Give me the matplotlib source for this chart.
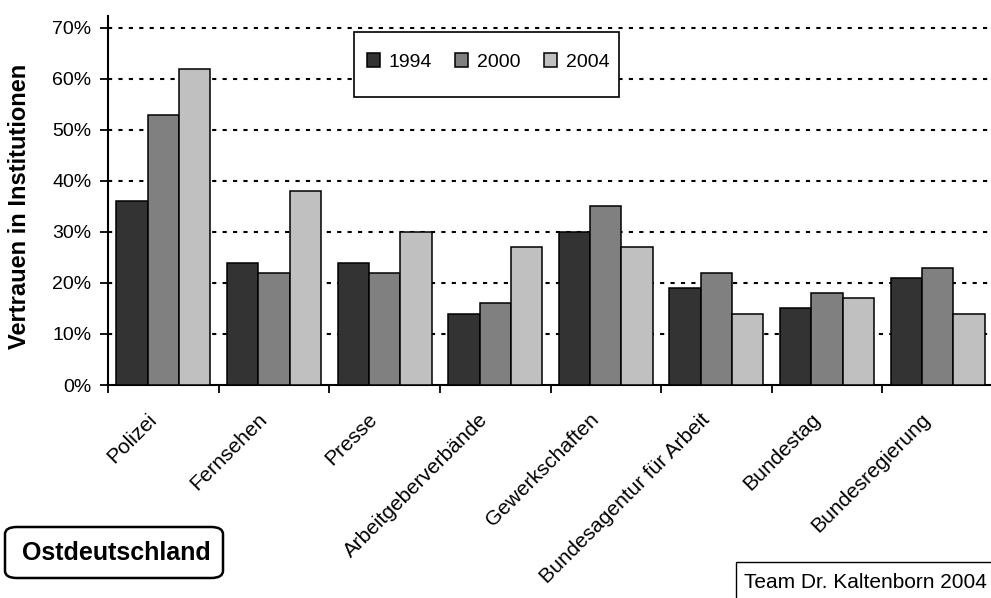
import matplotlib
matplotlib.use("Agg")
import matplotlib.pyplot as plt
from matplotlib.patches import Rectangle, FancyBboxPatch
from matplotlib.ticker import FixedLocator, PercentFormatter
import numpy as np

# data (share of people trusting the institution)
categories = ["Polizei", "Fernsehen", "Presse", "Arbeitgeberverbände", "Gewerkschaften",
              "Bundesagentur für Arbeit", "Bundestag", "Bundesregierung"]
years = ["1994", "2000", "2004"]
v1994 = [36, 24, 24, 14, 30, 19, 15, 21]
v2000 = [53, 22, 22, 16, 35, 22, 18, 23]
v2004 = [62, 38, 30, 27, 27, 14, 17, 14]
colors = ["#333333", "#808080", "#c0c0c0"]

plt.rcParams["font.family"] = ["Liberation Sans", "DejaVu Sans"]

W, H = 991, 598
fig = plt.figure(figsize=(W / 100, H / 100), dpi=100)
ax = fig.add_axes([108 / W, 1 - 385 / H, 885 / W, (385 - 16) / H])

x = np.arange(len(categories)) + 0.5
bw = 0.283
for i, vals in enumerate([v1994, v2000, v2004]):
    ax.bar(x + (i - 1) * bw, vals, width=bw, color=colors[i], edgecolor="black",
           linewidth=1.1, label=years[i], zorder=3)

ax.set_xlim(0, len(categories))
ax.set_ylim(0, 72.3)
ax.yaxis.set_major_locator(FixedLocator(range(0, 71, 10)))
ax.yaxis.set_major_formatter(PercentFormatter(decimals=0))
for yv in range(10, 71, 10):
    ax.axhline(yv, color="black", lw=1.5, linestyle=(0, (2, 3)), zorder=1)

ax.xaxis.set_major_locator(FixedLocator(range(0, len(categories) + 1)))
ax.xaxis.set_major_formatter(plt.NullFormatter())
ax.xaxis.set_minor_locator(FixedLocator(x - 0.15))
ax.set_xticklabels(categories, minor=True, rotation=45, ha="right", va="top",
                   rotation_mode="anchor", fontsize=15)
ax.tick_params(axis="x", which="minor", length=0, pad=18)
ax.tick_params(axis="x", which="major", length=6, width=1.3, direction="out")
ax.tick_params(axis="y", length=6, width=1.3, direction="out", labelsize=14, pad=6)

for s in ["top", "right"]:
    ax.spines[s].set_visible(False)
for s in ["left", "bottom"]:
    ax.spines[s].set_linewidth(1.5)

fig.text(20 / W, 1 - 206 / H, "Vertrauen in Institutionen", rotation=90, ha="center",
         va="center", fontsize=17, fontweight="bold")

# legend box
fig.patches.append(Rectangle((354 / W, 1 - 97 / H), (619 - 354) / W, (97 - 32) / H,
                             transform=fig.transFigure, facecolor="white",
                             edgecolor="black", lw=1.2, zorder=5))
leg = fig.legend(loc="center", bbox_to_anchor=(488 / W, 1 - 62 / H), ncol=3,
                 frameon=False, fontsize=14, handlelength=0.67, handleheight=0.67,
                 handletextpad=0.45, columnspacing=1.2)
leg.set_zorder(6)

# region box
fig.patches.append(FancyBboxPatch((5 / W, 1 - 578 / H), (223 - 5) / W, (578 - 527) / H,
                                  boxstyle="round,pad=0,rounding_size=0.012",
                                  transform=fig.transFigure, facecolor="white",
                                  edgecolor="black", lw=1.8))
fig.text(116 / W, 1 - 553 / H, "Ostdeutschland", ha="center", va="center",
         fontsize=18, fontweight="bold")

# source box
fig.patches.append(Rectangle((736 / W, 1 - 605 / H), 300 / W, (605 - 562) / H,
                             transform=fig.transFigure, facecolor="white",
                             edgecolor="black", lw=1.0))
fig.text(744 / W, 1 - 582 / H, "Team Dr. Kaltenborn 2004", ha="left", va="center",
         fontsize=15)

fig.savefig("out.png", dpi=100)
